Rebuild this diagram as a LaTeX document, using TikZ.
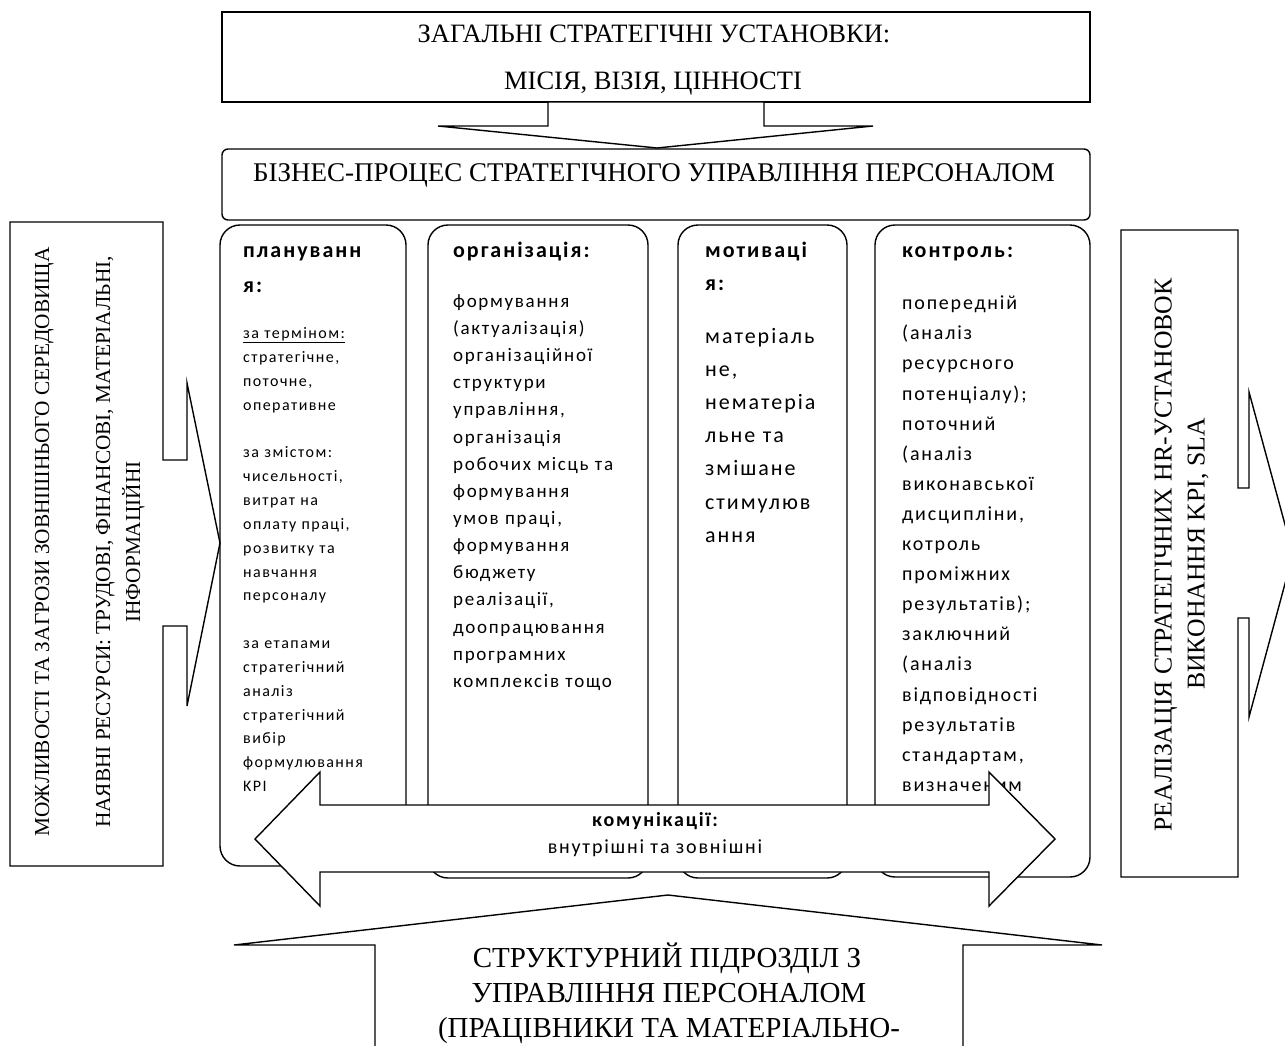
\documentclass[tikz,border=0pt]{standalone}
\usepackage{fontspec}
\setmainfont{Liberation Serif}
\newfontfamily\cfont{Carlito}[LetterSpace=9]
\begin{document}
\begin{tikzpicture}[x=1pt,y=-1pt,
  outline/.style={draw=black,line width=1.4pt,fill=white,line join=miter},
  colbox/.style={outline,rounded corners=20pt},
  capt/.style={inner sep=0pt,anchor=base},
  sidetext/.style={inner sep=0pt,anchor=base,rotate=90},
  coltext/.style={inner sep=0pt,anchor=base west,align=left,text width=230pt},
  colhead/.style={coltext,font=\cfont\bfseries\fontsize{22}{35}\selectfont},
]
\useasboundingbox (0,0) rectangle (1285,1045);
\fill[white] (0,0) rectangle (1285,1045);
\begin{scope}
\clip (0,0) rectangle (1285,1045);

% ---------- top box and arrow
\draw[outline] (222,12) rectangle (1090,102);
\node[capt,font=\fontsize{26.5}{30}\selectfont] (topA) at (654,42) {ЗАГАЛЬНІ СТРАТЕГІЧНІ УСТАНОВКИ:};
\node[capt,font=\fontsize{26.5}{30}\selectfont] (topB) at (653,89) {МІСІЯ, ВІЗІЯ, ЦІННОСТІ};
\draw[outline] (548,102) -- (548,126) -- (438,126) -- (657,148) -- (873,126) -- (764,126) -- (764,102) -- cycle;

% ---------- business process box
\draw[outline,rounded corners=6pt] (222,149) rectangle (1090,220);
\node[capt,font=\fontsize{27}{30}\selectfont] (biz) at (654,181) {БІЗНЕС-ПРОЦЕС СТРАТЕГІЧНОГО УПРАВЛІННЯ ПЕРСОНАЛОМ};

% ---------- columns
\draw[colbox] (220,225) rectangle (406,866);
\draw[colbox] (428,225) rectangle (648,878);
\draw[colbox] (678,225) rectangle (847,878);
\draw[colbox] (875,225) rectangle (1090,877);

\node[colhead] (planH) at (243,257) {плануванн\\я:};
\node[coltext,font=\cfont\fontsize{16}{23.84}\selectfont] (planB) at (243,338.7)
 {\underline{за терміном:}\\стратегічне,\\поточне,\\оперативне\\\mbox{}\\за змістом:\\чисельності,\\витрат на\\оплату праці,\\розвитку та\\навчання\\персоналу\\\mbox{}\\за етапами\\стратегічний\\аналіз\\стратегічний\\вибір\\формулювання\\KPI};

\node[colhead] (orgH) at (453,257) {організація:};
\node[coltext,font=\cfont\fontsize{19}{27.14}\selectfont] (orgB) at (453,307.4)
 {формування\\(актуалізація)\\організаційної\\структури\\управління,\\організація\\робочих місць та\\формування\\умов праці,\\формування\\бюджету\\реалізації,\\доопрацювання\\програмних\\комплексів тощо};

\node[colhead,font=\cfont\bfseries\fontsize{22}{33}\selectfont] (motH) at (705,257) {мотиваці\\я:};
\node[coltext,font=\cfont\fontsize{22}{33.2}\selectfont] (motB) at (705,343.1)
 {матеріаль\\не,\\нематеріа\\льне та\\змішане\\стимулюв\\ання};

\node[colhead] (ctrlH) at (902,257) {контроль:};
\node[coltext,font=\cfont\fontsize{20}{30.1}\selectfont] (ctrlB) at (902,309.7)
 {попередній\\(аналіз\\ресурсного\\потенціалу);\\поточний\\(аналіз\\виконавської\\дисципліни,\\котроль\\проміжних\\результатів);\\заключний\\(аналіз\\відповідності\\результатів\\стандартам,\\визначеним};

% ---------- communications double arrow
\draw[outline] (255,839) -- (320,772) -- (320,805) -- (989,805) -- (989,772) -- (1055,839)
  -- (989,906) -- (989,872) -- (320,872) -- (320,906) -- cycle;
\node[capt,font=\cfont\bfseries\fontsize{20}{24}\selectfont] (commA) at (655,826.7) {комунікації:};
\node[capt,font=\cfont\fontsize{20}{24}\selectfont] (commB) at (655,853.7) {внутрішні та зовнішні};

% ---------- left box with arrow
\draw[outline] (10,222) -- (163,222) -- (163,460) -- (187,460) -- (187,383) -- (220,543)
  -- (187,706) -- (187,626) -- (163,626) -- (163,866) -- (10,866) -- cycle;
\node[sidetext,font=\fontsize{21.3}{25}\selectfont] (leftA) at (49,542) {МОЖЛИВОСТІ ТА ЗАГРОЗИ ЗОВНІШНЬОГО СЕРЕДОВИЩА};
\node[sidetext,font=\fontsize{21.3}{25}\selectfont] (leftB) at (110,542) {НАЯВНІ РЕСУРСИ: ТРУДОВІ, ФІНАНСОВІ, МАТЕРІАЛЬНІ,};
\node[sidetext,font=\fontsize{21.3}{25}\selectfont] (leftC) at (140,542) {ІНФОРМАЦІЙНІ};

% ---------- right box with arrow
\draw[outline] (1121,230) -- (1238,230) -- (1238,488) -- (1249,488) -- (1249,392) -- (1293,554)
  -- (1249,717) -- (1249,618) -- (1238,618) -- (1238,877) -- (1121,877) -- cycle;
\node[sidetext,font=\fontsize{25.7}{30}\selectfont] (rightA) at (1171.5,555) {РЕАЛІЗАЦІЯ СТРАТЕГІЧНИХ HR-УСТАНОВОК};
\node[sidetext,font=\fontsize{25.7}{30}\selectfont] (rightB) at (1204.5,554) {ВИКОНАННЯ KPI, SLA};

% ---------- bottom up arrow
\draw[outline] (375,1060) -- (375,945) -- (234,945) -- (668,895) -- (1102,945) -- (963,945) -- (963,1060);
\node[capt,font=\fontsize{29}{35}\selectfont] (botA) at (667,967.6) {СТРУКТУРНИЙ ПІДРОЗДІЛ З};
\node[capt,font=\fontsize{29}{35}\selectfont] (botB) at (669,1002.6) {УПРАВЛІННЯ ПЕРСОНАЛОМ};
\node[capt,font=\fontsize{29}{35}\selectfont] (botC) at (669,1037.6) {(ПРАЦІВНИКИ ТА МАТЕРІАЛЬНО-};
\end{scope}
\end{tikzpicture}
\end{document}
